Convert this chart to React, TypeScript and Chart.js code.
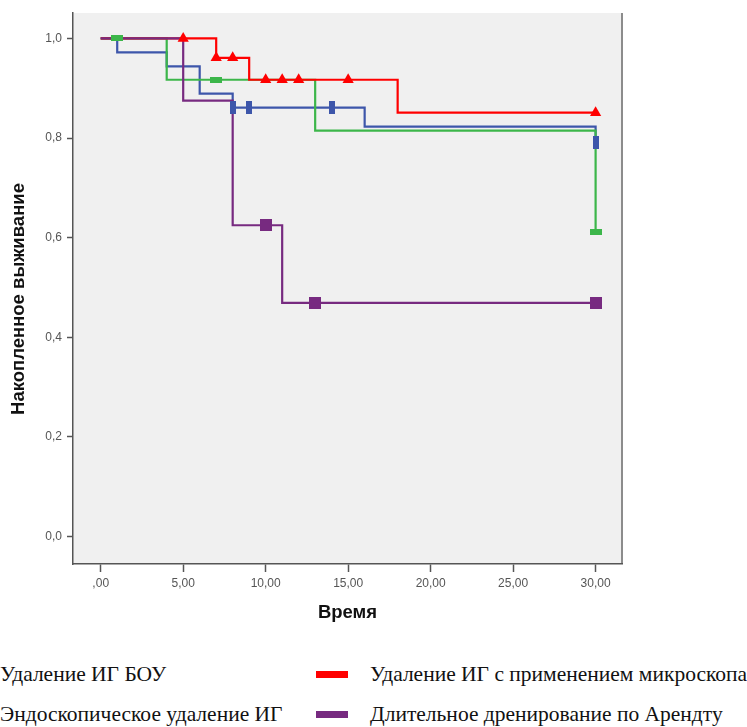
import React, { useEffect, useRef } from "react";
import { Chart, registerables } from "chart.js";

Chart.register(...registerables);

// ---- axis ticks ----
const xTicks = [0, 5, 10, 15, 20, 25, 30];
const xTickLabels = [",00", "5,00", "10,00", "15,00", "20,00", "25,00", "30,00"];
const yTicks = [0, 0.2, 0.4, 0.6, 0.8, 1.0];
const yTickLabels = ["0,0", "0,2", "0,4", "0,6", "0,8", "1,0"];

// ---- series names ----
const seriesNames = [
  "Удаление ИГ БОУ",
  "Удаление ИГ с применением микроскопа",
  "Эндоскопическое удаление ИГ",
  "Длительное дренирование по Арендту",
];

// ---- Kaplan–Meier steps (time, cumulative survival) ----
const bouTimes = [0, 1, 4, 6, 8, 16, 30];
const bouSurv = [1, 0.972, 0.944, 0.889, 0.861, 0.823, 0.791];
const bouCensorTimes = [8, 9, 14, 30];
const bouCensorSurv = [0.861, 0.861, 0.861, 0.791];

const microTimes = [0, 7, 9, 18, 30];
const microSurv = [1, 0.961, 0.917, 0.851, 0.851];
const microCensorTimes = [5, 7, 8, 10, 11, 12, 15, 30];
const microCensorSurv = [1, 0.961, 0.961, 0.917, 0.917, 0.917, 0.917, 0.851];

const endoTimes = [0, 4, 13, 30];
const endoSurv = [1, 0.917, 0.815, 0.611];
const endoCensorTimes = [1, 7, 30];
const endoCensorSurv = [1, 0.917, 0.611];

const arendtTimes = [0, 5, 8, 11, 30];
const arendtSurv = [1, 0.875, 0.625, 0.469, 0.469];
const arendtCensorTimes = [10, 13, 30];
const arendtCensorSurv = [0.625, 0.469, 0.469];

const BLUE = "#3D56AA";
const RED = "#FF0000";
const GREEN = "#3CB64A";
const PURPLE = "#772A80";

const SANS = "'Liberation Sans', Arial, sans-serif";
const SERIF = "'Liberation Serif', 'Times New Roman', serif";

function pts(xs: number[], ys: number[]) {
  return xs.map((x, i) => ({ x, y: ys[i] }));
}

function rectImg(w: number, h: number, color: string) {
  const c = document.createElement("canvas");
  c.width = w;
  c.height = h;
  const g = c.getContext("2d")!;
  g.fillStyle = color;
  g.fillRect(0, 0, w, h);
  return c;
}

const bgPlugin = {
  id: "kmBackground",
  beforeDraw(chart: any) {
    const { ctx, chartArea: a } = chart;
    ctx.save();
    ctx.fillStyle = "#F0F0F0";
    ctx.fillRect(a.left, a.top, a.right - a.left, a.bottom - a.top);
    ctx.strokeStyle = "#8C8C8C";
    ctx.lineWidth = 2;
    ctx.beginPath();
    ctx.moveTo(a.right, a.top);
    ctx.lineTo(a.right, a.bottom);
    ctx.stroke();
    ctx.restore();
  },
};

const yTitlePlugin = {
  id: "yTitle",
  afterDraw(chart: any) {
    const { ctx } = chart;
    ctx.save();
    ctx.translate(19, 299);
    ctx.rotate(-Math.PI / 2);
    ctx.font = `bold 18.5px ${SANS}`;
    ctx.fillStyle = "#111";
    ctx.textAlign = "center";
    ctx.textBaseline = "middle";
    ctx.fillText("Накопленное выживание", 0, 0);
    ctx.restore();
  },
};

function KMChart() {
  const ref = useRef<HTMLCanvasElement | null>(null);

  useEffect(() => {
    const canvas = ref.current;
    if (!canvas) return;

    const blueMark = rectImg(6, 13, BLUE);
    const greenMark = rectImg(12, 6, GREEN);
    const purpleMark = rectImg(12, 12, PURPLE);

    const lineDs = (label: string, xs: number[], ys: number[], color: string, order: number) => ({
      type: "line" as const,
      label,
      data: pts(xs, ys),
      borderColor: color,
      borderWidth: 2.2,
      stepped: "before" as const,
      pointRadius: 0,
      fill: false,
      order,
    });
    const markDs = (label: string, xs: number[], ys: number[], color: string, style: any, radius: number, order: number) => ({
      type: "scatter" as const,
      label,
      data: pts(xs, ys),
      showLine: false,
      pointStyle: style,
      pointRadius: radius,
      pointBackgroundColor: color,
      pointBorderColor: color,
      pointBorderWidth: 0,
      order,
    });

    const chart = new Chart(canvas, {
      type: "line",
      data: {
        datasets: [
          markDs(seriesNames[3] + " censored", arendtCensorTimes, arendtCensorSurv, PURPLE, purpleMark, 6, 0),
          markDs(seriesNames[1] + " censored", microCensorTimes, microCensorSurv, RED, "triangle", 6.5, 1),
          markDs(seriesNames[2] + " censored", endoCensorTimes, endoCensorSurv, GREEN, greenMark, 6, 2),
          markDs(seriesNames[0] + " censored", bouCensorTimes, bouCensorSurv, BLUE, blueMark, 6, 3),
          lineDs(seriesNames[3], arendtTimes, arendtSurv, PURPLE, 10),
          lineDs(seriesNames[1], microTimes, microSurv, RED, 11),
          lineDs(seriesNames[2], endoTimes, endoSurv, GREEN, 12),
          lineDs(seriesNames[0], bouTimes, bouSurv, BLUE, 13),
        ] as any,
      },
      options: {
        animation: false,
        responsive: false,
        devicePixelRatio: 1,
        layout: { padding: { left: 0, top: 13, right: 125, bottom: 0 } },
        plugins: { legend: { display: false }, tooltip: { enabled: false } },
        scales: {
          x: {
            type: "linear",
            min: -1.68,
            max: 31.6,
            afterBuildTicks: (s: any) => {
              s.ticks = xTicks.map((v) => ({ value: v }));
            },
            afterFit: (s: any) => {
              s.height = 76;
            },
            grid: {
              display: true,
              drawOnChartArea: false,
              drawTicks: true,
              tickLength: 8,
              tickColor: "#555",
              tickWidth: 1.5,
              color: "#555",
            },
            border: { display: true, color: "#555", width: 1.5 },
            ticks: {
              autoSkip: false,
              maxRotation: 0,
              padding: 4,
              color: "#555",
              font: { size: 12, family: SANS },
              callback: (v: any) => xTickLabels[xTicks.indexOf(Number(v))],
            },
            title: {
              display: true,
              text: "Время",
              color: "#111",
              font: { size: 18.5, weight: "bold", family: SANS },
              padding: { top: 0, bottom: 16 },
            },
          },
          y: {
            type: "linear",
            min: -0.055,
            max: 1.051,
            afterBuildTicks: (s: any) => {
              s.ticks = yTicks.map((v) => ({ value: v }));
            },
            afterFit: (s: any) => {
              s.width = 73;
            },
            grid: {
              display: true,
              drawOnChartArea: false,
              drawTicks: true,
              tickLength: 6,
              tickColor: "#555",
              tickWidth: 1.5,
              color: "#555",
            },
            border: { display: true, color: "#555", width: 1.5 },
            ticks: {
              autoSkip: false,
              padding: 5,
              color: "#555",
              font: { size: 12, family: SANS },
              callback: (v: any) => {
                const i = yTicks.findIndex((t) => Math.abs(t - Number(v)) < 1e-6);
                return i >= 0 ? yTickLabels[i] : "";
              },
            },
            title: { display: false },
          },
        },
      } as any,
      plugins: [bgPlugin, yTitlePlugin],
    });

    return () => chart.destroy();
  }, []);

  return <canvas ref={ref} width={747} height={640} style={{ position: "absolute", left: 0, top: 0, width: 747, height: 640 }} />;
}

const legendItems = [
  { name: seriesNames[0], color: BLUE, textX: 0, top: 662 },
  { name: seriesNames[1], color: RED, textX: 370, top: 662 },
  { name: seriesNames[2], color: GREEN, textX: 0, top: 702 },
  { name: seriesNames[3], color: PURPLE, textX: 370, top: 702 },
];

export default function App() {
  return (
    <div
      style={{
        position: "fixed",
        left: 0,
        top: 0,
        width: 747,
        height: 727,
        overflow: "hidden",
        background: "#fff",
      }}
    >
      <KMChart />
      {legendItems.map((it) => (
        <React.Fragment key={it.name}>
          <div
            style={{
              position: "absolute",
              left: it.textX - 54,
              top: it.top + 9,
              width: 32,
              height: 7,
              background: it.color,
            }}
          />
          <div
            style={{
              position: "absolute",
              left: it.textX,
              top: it.top,
              fontFamily: SERIF,
              fontSize: 21.5,
              lineHeight: "24px",
              color: "#111",
              whiteSpace: "nowrap",
            }}
          >
            {it.name}
          </div>
        </React.Fragment>
      ))}
    </div>
  );
}
